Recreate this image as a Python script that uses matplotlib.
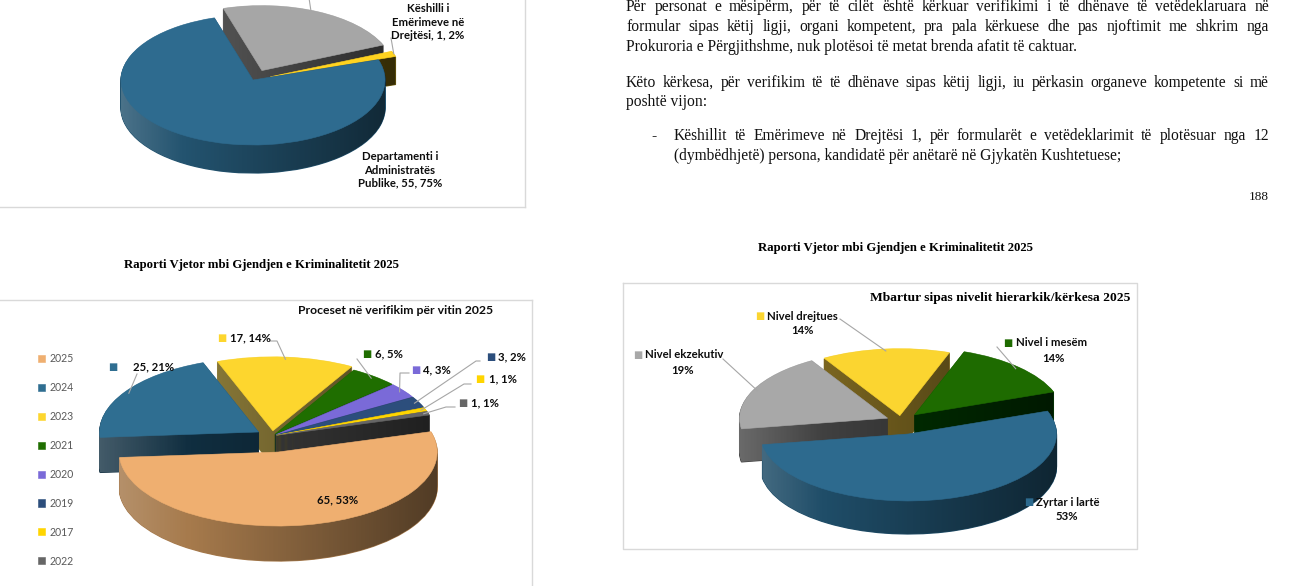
import numpy as np
import matplotlib
matplotlib.use("Agg")
import matplotlib.pyplot as plt
from matplotlib.path import Path

W, H = 1308, 586

# ---------------- data ----------------
# top-left (partly visible) pie
p1_names = ["", "Këshilli i\nEmërimeve në\nDrejtësi", "Departamenti i\nAdministratës\nPublike"]
p1_values = [17, 1, 55]
p1_pct = [23, 2, 75]
p1_colors = ["#A6A6A6", "#FFD320", "#2E6B8F"]
p1_sides = ["#5A5A5A", "#6E5C0E", "#23536F"]

# bottom-left pie: proceset në verifikim për vitin 2025
p2_title = "Proceset në verifikim për vitin 2025"
p2_years = ["2025", "2024", "2023", "2021", "2020", "2019", "2017", "2022"]
p2_values = [65, 25, 17, 6, 4, 3, 1, 1]
p2_pct = [53, 21, 14, 5, 3, 2, 1, 1]
p2_colors = ["#EFAF70", "#2F6E91", "#FDD62E", "#1F6E00", "#7A6AD8", "#2C4E7C", "#FFD500", "#666666"]
p2_sides = ["#A67A4C", "#102E40", "#8E7D3A", "#0C3A00", "#4E4396", "#1C2E48", "#8C7500", "#404040"]

# bottom-right pie: mbartur sipas nivelit hierarkik
p3_title = "Mbartur sipas nivelit hierarkik/kërkesa 2025"
p3_levels = ["Zyrtar i lartë", "Nivel ekzekutiv", "Nivel drejtues", "Nivel i mesëm"]
p3_pct = [53, 19, 14, 14]
p3_colors = ["#2D6A8E", "#A8A8A8", "#FBD530", "#1E6B00"]
p3_sides = ["#1F4D68", "#404040", "#7A6520", "#003300"]

report_title = "Raporti Vjetor mbi Gjendjen e Kriminalitetit 2025"
page_number = "188"
para1 = ["Për personat e mësipërm, për të cilët është kërkuar verifikimi i të dhënave të vetëdeklaruara në",
         "formular sipas këtij ligji, organi kompetent, pra pala kërkuese dhe pas njoftimit me shkrim nga",
         "Prokuroria e Përgjithshme, nuk plotësoi të metat brenda afatit të caktuar."]
para2 = ["Këto kërkesa, për verifikim të të dhënave sipas këtij ligji, iu përkasin organeve kompetente si më",
         "poshtë vijon:"]
bullet = ["Këshillit të Emërimeve në Drejtësi 1, për formularët e vetëdeklarimit të plotësuar nga 12",
          "(dymbëdhjetë) persona, kandidatë për anëtarë në Gjykatën Kushtetuese;"]

LABEL_FONT = "Lato"
SERIF = "Liberation Serif"
LINE_C = "#A6A6A6"

fig = plt.figure(figsize=(W / 100, H / 100), dpi=100)
fig.patch.set_facecolor("white")
R = fig.canvas.get_renderer()


def shade(ax, wedges):
    comp = Path.make_compound_path(*[w.get_path() for w in wedges])
    n = 256
    t = np.linspace(0, 1, n)
    rgba = np.zeros((1, n, 4))
    light = t < 0.3
    rgba[0, light, :3] = 1.0
    rgba[0, light, 3] = (0.3 - t[light]) / 0.3 * 0.30
    dark = ~light
    rgba[0, dark, 3] = (t[dark] - 0.3) / 0.7 * 0.60
    im = ax.imshow(rgba, extent=(-1.3, 1.3, -2.0, 1.5), aspect="auto",
                   zorder=1.5, interpolation="bilinear")
    im.set_clip_path(comp, ax.transData)


def pie3d(values, colors, sides, explode, start, cx, cy, rx, ry, depth, z):
    ax = fig.add_axes([0, 0, 1, 1], zorder=z)
    ax.set_axis_off()
    side_w = []
    for k in np.arange(depth, 0, -1.0):
        ws, _ = ax.pie(values, colors=sides, explode=explode, startangle=start,
                       counterclock=False, center=(0, -k / ry), frame=False,
                       wedgeprops=dict(linewidth=0.9))
        for w in ws:
            w.set_edgecolor(w.get_facecolor())
        side_w.extend(ws)
    shade(ax, side_w)
    tops, _ = ax.pie(values, colors=colors, explode=explode, startangle=start,
                     counterclock=False, center=(0, 0), frame=False,
                     wedgeprops=dict(linewidth=0.4))
    for w in tops:
        w.set_edgecolor(w.get_facecolor())
        w.set_zorder(2)
    ax.set_aspect("auto")
    ax.set_xlim(-cx / rx, (W - cx) / rx)
    ax.set_ylim((cy - H) / ry, cy / ry)
    return ax, tops


def slice_pt(ax, w, f=0.95):
    mid = np.radians((w.theta1 + w.theta2) / 2)
    X = w.center[0] + f * w.r * np.cos(mid)
    Y = w.center[1] + f * w.r * np.sin(mid)
    d = ax.transData.transform((X, Y))
    return d[0], H - d[1]


ax1, t1 = pie3d(p1_values, p1_colors, p1_sides, [0.16, 0.14, 0.0], 107,
                253, 80, 132, 65, 28, 1)
ax2, t2 = pie3d(p2_values, p2_colors, p2_sides,
                [0.22, 0.10, 0.07, 0.03, 0.03, 0.03, 0.03, 0.03], 16,
                272, 436, 159, 74, 35, 2)
ax3, t3 = pie3d(p3_pct, p3_colors, p3_sides, [0.2, 0.1, 0.08, 0.13], 20,
                901, 421, 148, 67, 33, 3)

# ---------------- page overlay ----------------
pa = fig.add_axes([0, 0, 1, 1], zorder=10)
pa.set_xlim(0, W)
pa.set_ylim(H, 0)
pa.set_axis_off()
pa.patch.set_alpha(0)

BOX = "#D9D9D9"
pa.plot([0, 525], [207, 207], color=BOX, lw=1)
pa.plot([525, 525], [0, 207], color=BOX, lw=1)
pa.plot([0, 532], [299.5, 299.5], color=BOX, lw=1)
pa.plot([532, 532], [299.5, H], color=BOX, lw=1)
pa.plot([623, 1137, 1137, 623, 623], [283, 283, 549, 549, 283], color=BOX, lw=1)


def sq(x, y, c, size=7):
    pa.text(x, y, "\u25A0", color=c, fontsize=size, family="DejaVu Sans",
            ha="left", va="center")


def lab(x, y, s, ha="left", size=8.2):
    pa.text(x, y, s, fontsize=size, family=LABEL_FONT, weight="bold",
            color="#0D0D0D", ha=ha, va="center")


def leader(pts, target):
    xs = [p[0] for p in pts] + [target[0]]
    ys = [p[1] for p in pts] + [target[1]]
    pa.plot(xs, ys, color=LINE_C, lw=0.8)


# --- top-left chart labels ---
pa.text(428, 22, p1_names[1] + f", {p1_values[1]}, {p1_pct[1]}%", fontsize=8.2,
        family=LABEL_FONT, weight="bold", color="#0D0D0D", ha="center",
        va="center", linespacing=1.25)
pa.text(400, 170, p1_names[2] + f", {p1_values[2]}, {p1_pct[2]}%", fontsize=8.2,
        family=LABEL_FONT, weight="bold", color="#0D0D0D", ha="center",
        va="center", linespacing=1.25)
leader([(309, -2)], slice_pt(ax1, t1[0], 0.9))
leader([(391, 38)], slice_pt(ax1, t1[1], 1.0))

# --- report titles ---
pa.text(261, 265, report_title, fontsize=9.2, family=SERIF, weight="bold",
        ha="center", va="center")
pa.text(895, 248, report_title, fontsize=9.2, family=SERIF, weight="bold",
        ha="center", va="center")

# --- chart 2 ---
pa.text(493, 310, p2_title, fontsize=8.8, family=LABEL_FONT, weight="bold",
        color="#0D0D0D", ha="right", va="center")
leg = pa.legend(t2, p2_years, loc="upper left", bbox_to_anchor=(38, 353),
                bbox_transform=pa.transData, frameon=False,
                handlelength=0.65, handleheight=0.65, handletextpad=0.45,
                labelspacing=1.70, borderpad=0, borderaxespad=0,
                labelcolor="#595959", prop=dict(family=LABEL_FONT, size=7.6))

p2_lab = [  # (square x, text x, y, leader points) in data order
    (304, 317, 500, None),
    (108, 133, 367, [(137, 374)]),
    (217, 230, 338, [(270, 341), (277, 341)]),
    (362, 375, 354, [(357, 359)]),
    (411, 423, 370, [(409, 373), (400, 373)]),
    (486, 498, 357, [(480, 361), (476, 361)]),
    (475, 489, 379, [(471, 384), (464, 384)]),
    (458, 471, 403, [(455, 407), (446, 407)]),
]
for i, (sx, tx, y, pts) in enumerate(p2_lab):
    sq(sx, y, p2_colors[i])
    lab(tx, y, f"{p2_values[i]}, {p2_pct[i]}%")
    if pts:
        leader(pts, slice_pt(ax2, t2[i], 0.97))

# --- chart 3 ---
pa.text(1130, 298, p3_title, fontsize=9.7, family=SERIF, weight="bold",
        ha="right", va="center")
p3_lab = [  # (square x, text x, y, pct centre x, leader points)
    (1024, 1036, 502, 1067, None),
    (633, 645, 355, 683, [(723, 359)]),
    (755, 767, 316, 802, [(840, 319)]),
    (1003, 1016, 343, 1053, [(997, 347)]),
]
for i, (sx, tx, y, px, pts) in enumerate(p3_lab):
    sq(sx, y, p3_colors[i])
    lab(tx, y, p3_levels[i])
    lab(px, y + 15, f"{p3_pct[i]}%", ha="center")
    if pts:
        leader(pts, slice_pt(ax3, t3[i], 0.97))

# --- paragraph text (justified) ---
PFS = 11.2


def put_line(line, x0, x1, y, justify):
    if not justify:
        pa.text(x0, y, line, fontsize=PFS, family=SERIF, ha="left", va="center",
                color="#111111")
        return
    words = line.split()
    ts = [pa.text(0, y, w, fontsize=PFS, family=SERIF, ha="left", va="center",
                  color="#111111") for w in words]
    widths = [t.get_window_extent(renderer=R).width for t in ts]
    gap = (x1 - x0 - sum(widths)) / (len(words) - 1)
    x = x0
    for t, wd in zip(ts, widths):
        t.set_x(x)
        x += wd + gap


for i, (ln, y) in enumerate(zip(para1, [7, 27, 47])):
    put_line(ln, 626, 1269, y, i < len(para1) - 1)
for i, (ln, y) in enumerate(zip(para2, [83, 102])):
    put_line(ln, 626, 1269, y, i < len(para2) - 1)
pa.text(651, 136, "-", fontsize=PFS, family=SERIF, ha="left", va="center")
for i, (ln, y) in enumerate(zip(bullet, [136, 156])):
    put_line(ln, 674, 1269, y, i < len(bullet) - 1)
pa.text(1269, 197, page_number, fontsize=9.5, family=SERIF, ha="right",
        va="center", color="#111111")

fig.savefig("out.png", dpi=100, facecolor="white")
